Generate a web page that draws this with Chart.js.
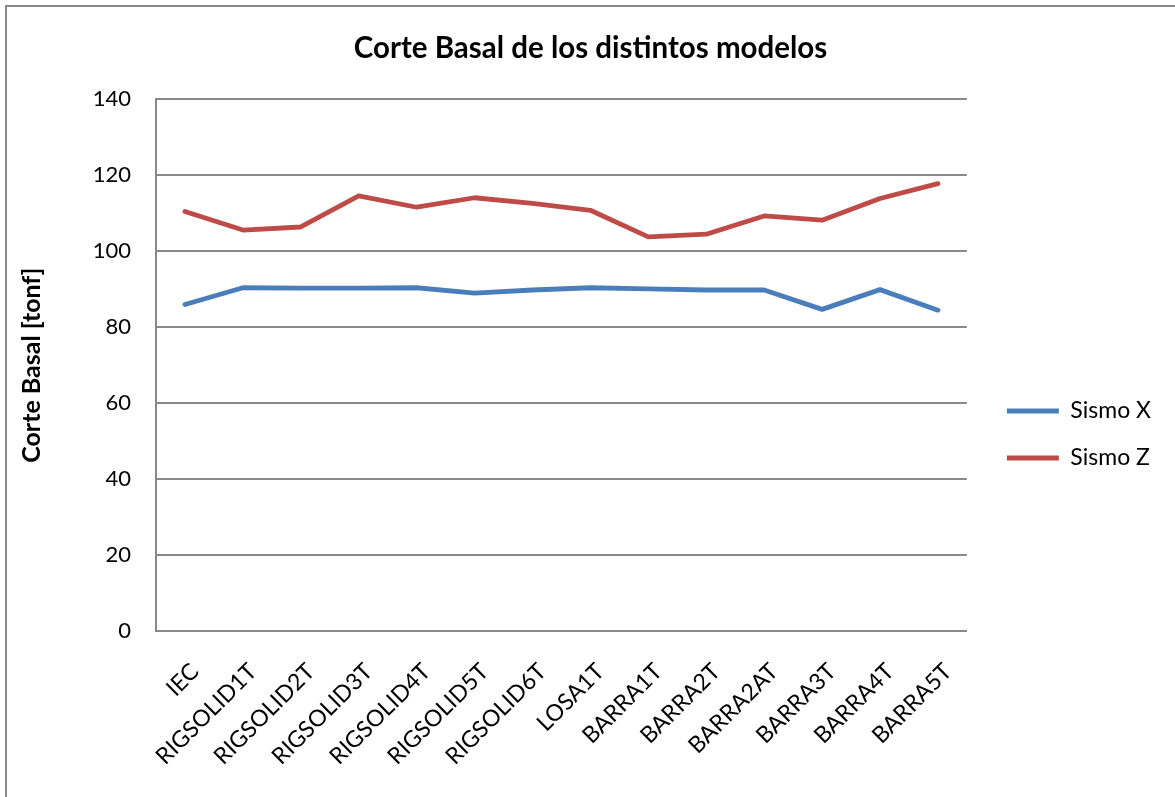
<!DOCTYPE html>
<html>
<head>
<meta charset="utf-8">
<style>
  html, body { margin: 0; padding: 0; background: #fff; }
  #wrap { position: relative; width: 1175px; height: 797px; overflow: hidden; }
  #frame { position: absolute; left: 5px; top: 5px; width: 1190px; height: 810px; border: 2px solid #898989; }
  #chart { position: absolute; left: 0; top: 0; }
</style>
<script src="https://cdn.jsdelivr.net/npm/chart.js@4.4.1/dist/chart.umd.min.js"></script>
</head>
<body>
<div id="wrap">
  <div id="frame"></div>
  <canvas id="chart" width="1175" height="797"></canvas>
</div>
<script>
const models = ["IEC", "RIGSOLID1T", "RIGSOLID2T", "RIGSOLID3T", "RIGSOLID4T", "RIGSOLID5T", "RIGSOLID6T",
                "LOSA1T", "BARRA1T", "BARRA2T", "BARRA2AT", "BARRA3T", "BARRA4T", "BARRA5T"];
const sismoX = [86.0, 90.4, 90.3, 90.3, 90.4, 89.0, 89.8, 90.4, 90.1, 89.8, 89.8, 84.7, 89.9, 84.5];
const sismoZ = [110.5, 105.6, 106.4, 114.6, 111.6, 114.1, 112.6, 110.8, 103.8, 104.5, 109.3, 108.2, 113.9, 117.8];
const yTicks = [0, 20, 40, 60, 80, 100, 120, 140];

const FONT = "Lato, Calibri, 'Noto Sans', sans-serif";
const gridGray = "#898989";

// nudge legend + title to where Excel put them
const boxShift = {
    id: 'boxShift',
    afterLayout(chart) {
        chart.legend.left += 16;
        chart.legend.right += 16;
        chart.legend.top += 50;
        chart.legend.bottom += 50;
        chart.titleBlock.left += 18;
        chart.titleBlock.right += 18;
    }
};

new Chart(document.getElementById('chart'), {
    type: 'line',
    data: {
        labels: models,
        datasets: [
            {
                label: 'Sismo X',
                data: sismoX,
                borderColor: '#4A7EBB',
                backgroundColor: '#4A7EBB',
                borderWidth: 4.8,
                borderCapStyle: 'round',
                borderJoinStyle: 'round',
                pointRadius: 0,
                tension: 0,
                fill: false
            },
            {
                label: 'Sismo Z',
                data: sismoZ,
                borderColor: '#BE4B48',
                backgroundColor: '#BE4B48',
                borderWidth: 4.8,
                borderCapStyle: 'round',
                borderJoinStyle: 'round',
                pointRadius: 0,
                tension: 0,
                fill: false
            }
        ]
    },
    options: {
        responsive: false,
        animation: false,
        layout: { padding: { top: 0, left: 0, right: 30, bottom: 28 } },
        plugins: {
            title: {
                display: true,
                text: 'Corte Basal de los distintos modelos',
                color: '#000',
                font: { family: FONT, size: 29.5, weight: 'bold' },
                padding: { top: 31, bottom: 33 }
            },
            legend: {
                position: 'right',
                labels: {
                    usePointStyle: true,
                    pointStyle: 'line',
                    pointStyleWidth: 52,
                    padding: 24,
                    color: '#000',
                    font: { family: FONT, size: 23 }
                }
            },
            tooltip: { enabled: false }
        },
        scales: {
            x: {
                offset: true,
                grid: { display: false, drawTicks: false },
                border: { display: true, color: gridGray, width: 2 },
                ticks: {
                    color: '#000',
                    font: { family: FONT, size: 23 },
                    maxRotation: 45,
                    minRotation: 45,
                    autoSkip: false,
                    labelOffset: 10,
                    padding: 27
                },
                afterFit(axis) { axis.height = 797 - 28 - 631; }
            },
            y: {
                min: 0,
                max: 140,
                afterBuildTicks(axis) { axis.ticks = yTicks.map(v => ({ value: v })); },
                grid: { color: gridGray, lineWidth: 2, drawTicks: false },
                border: { display: true, color: gridGray, width: 2 },
                ticks: {
                    color: '#000',
                    font: { family: FONT, size: 22 },
                    padding: 25
                },
                title: {
                    display: true,
                    text: 'Corte Basal [tonf]',
                    color: '#000',
                    font: { family: FONT, size: 25, weight: 'bold' },
                    padding: { top: 17, bottom: 0 }
                },
                afterFit(axis) { axis.width = 156; }
            }
        }
    },
    plugins: [boxShift]
});
</script>
</body>
</html>
